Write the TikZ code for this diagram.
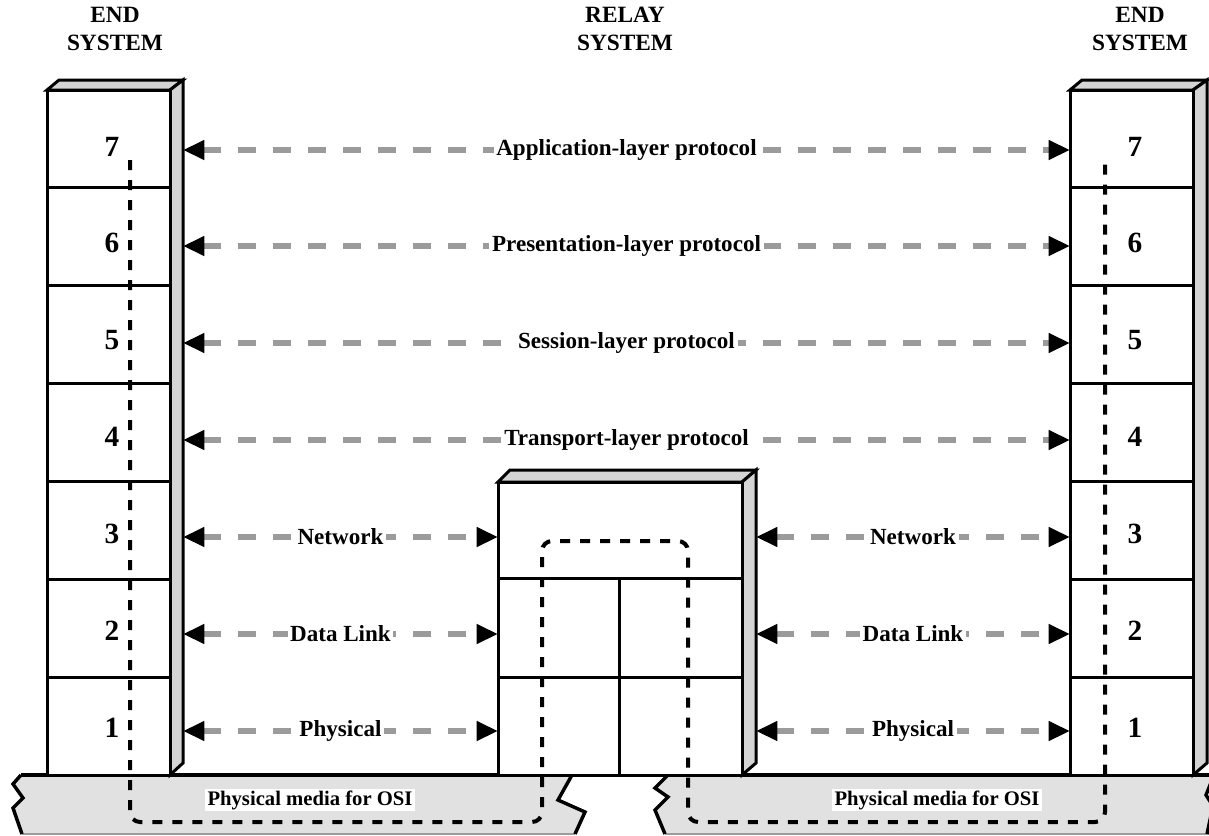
\documentclass[tikz,border=0pt]{standalone}
\usepackage{fontspec}
\setmainfont{Liberation Serif}
\usetikzlibrary{arrows.meta}
\definecolor{faceg}{RGB}{212,212,212}
\definecolor{mediag}{RGB}{225,225,225}
\definecolor{shaftg}{RGB}{155,155,155}
\begin{document}
\begin{tikzpicture}[x=0.75pt,y=-0.75pt,
  frame/.style={draw=black, line width=2.25pt, line join=miter},
  face/.style={frame, fill=faceg},
  tipb/.tip={Triangle[length=16pt,width=14pt,color=black]},
  proto/.style={draw=shaftg, line width=4.5pt, dash pattern=on 13.5pt off 12.75pt, tipb-tipb},
  plbl/.style={fill=white, text=black, inner xsep=2pt, inner ysep=1pt,
    font=\fontsize{17.3}{20}\selectfont\bfseries},
  num/.style={font=\fontsize{22}{24}\selectfont\bfseries},
  hdr/.style={align=center, inner sep=0pt, font=\fontsize{17.5}{21}\selectfont\bfseries},
  mlbl/.style={fill=white, inner xsep=2pt, inner ysep=1pt,
    font=\fontsize{15.5}{18}\selectfont\bfseries},
  route/.style={draw=black, line width=3pt, dash pattern=on 7.5pt off 7.5pt, rounded corners=7.5pt},
  jag/.style={draw=black, line width=2.6pt, line join=miter}]

\useasboundingbox (0,0) rectangle (1209,835);

% ---------- physical media (two broken slabs) ----------
\fill[mediag] (21,775) -- (572,775) -- (558,800) -- (585,812) -- (575,834)
  -- (22,834) -- (13,808) -- (23,798) -- (13,784) -- cycle;
\fill[mediag] (668,775) -- (1214,775) -- (1206,795) -- (1213,806) -- (1207,834)
  -- (665,834) -- (655,810) -- (668,797) -- (655,788) -- cycle;
\draw[shaftg, line width=0.9pt] (22,834) -- (575,834) (665,834) -- (1209,834);
\draw[jag] (21,775) -- (13,784) -- (23,798) -- (13,808) -- (22,834);
\draw[jag] (572,775) -- (558,800) -- (585,812) -- (575,834);
\draw[jag] (668,775) -- (655,788) -- (668,797) -- (655,810) -- (665,834);
\draw[jag] (1214,775) -- (1206,795) -- (1213,806) -- (1207,834);
\draw[black, line width=3pt] (21,775) -- (1214,775);

% ---------- left end system ----------
\draw[face] (47,90) -- (59,80) -- (183,80) -- (170,90) -- cycle;
\draw[face] (170,90) -- (183,80) -- (183,763) -- (170,775) -- cycle;
\draw[frame, fill=white] (47,90) rectangle (170,775);
\foreach \yy in {187.9,285.7,383.6,481.4,579.3,677.1}
  \draw[frame] (47,\yy) -- (170,\yy);

% ---------- right end system ----------
\draw[face] (1070,90) -- (1082,80) -- (1207,80) -- (1193,90) -- cycle;
\draw[face] (1193,90) -- (1207,80) -- (1207,763) -- (1193,775) -- cycle;
\draw[frame, fill=white] (1070,90) rectangle (1193,775);
\foreach \yy in {187.9,285.7,383.6,481.4,579.3,677.1}
  \draw[frame] (1070,\yy) -- (1193,\yy);

% ---------- relay system ----------
\draw[face] (498,482) -- (510,470) -- (756,470) -- (742,482) -- cycle;
\draw[face] (742,482) -- (756,470) -- (756,763) -- (742,775) -- cycle;
\draw[frame, fill=white] (498,482) rectangle (742,775);
\draw[frame] (498,578) -- (742,578) (498,677) -- (742,677) (619,578) -- (619,775);

% ---------- layer numbers ----------
\foreach \k/\yy in {7/147,6/243,5/340,4/437,3/534,2/631,1/728} {
  \node[num] (nl\k) at (112,\yy) {\k};
  \node[num] (nr\k) at (1135,\yy) {\k};
}

% ---------- path of the data through the systems ----------
\coordinate (rtA) at (130,160);
\coordinate (rtB) at (1105,163);
\draw[route] (rtA) -- (130,822) -- (542,822) -- (542,541) -- (688,541)
  -- (688,822) -- (1105,822) -- (rtB);

% ---------- media labels ----------
\node[mlbl] (medL) at (310,800) {Physical media for OSI};
\node[mlbl] (medR) at (937,800) {Physical media for OSI};

% ---------- headers ----------
\node[hdr] (hdL) at (115,29) {END\\SYSTEM};
\node[hdr] (hdM) at (625,29) {RELAY\\SYSTEM};
\node[hdr] (hdR) at (1140,29) {END\\SYSTEM};

% ---------- peer protocols ----------
\foreach \k/\yy in {7/150,6/246,5/343,4/440,3/537,2/634,1/731} {
  \coordinate (le\k) at (183,\yy);
  \coordinate (re\k) at (1070,\yy);
}
\foreach \k/\yy in {3/537,2/634,1/731} {
  \coordinate (ml\k) at (498,\yy);
  \coordinate (mr\k) at (756,\yy);
}
\draw[proto] (le7) -- node[plbl] (p7) {Application-layer protocol} (re7);
\draw[proto] (le6) -- node[plbl] (p6) {Presentation-layer protocol} (re6);
\draw[proto] (le5) -- node[plbl] (p5) {Session-layer protocol} (re5);
\draw[proto] (le4) -- node[plbl] (p4) {Transport-layer protocol} (re4);

\draw[proto] (le3) -- node[plbl] (pl3) {Network} (ml3);
\draw[proto] (le2) -- node[plbl] (pl2) {Data Link} (ml2);
\draw[proto] (le1) -- node[plbl] (pl1) {Physical} (ml1);
\draw[proto] (mr3) -- node[plbl] (pr3) {Network} (re3);
\draw[proto] (mr2) -- node[plbl] (pr2) {Data Link} (re2);
\draw[proto] (mr1) -- node[plbl] (pr1) {Physical} (re1);
\end{tikzpicture}
\end{document}
